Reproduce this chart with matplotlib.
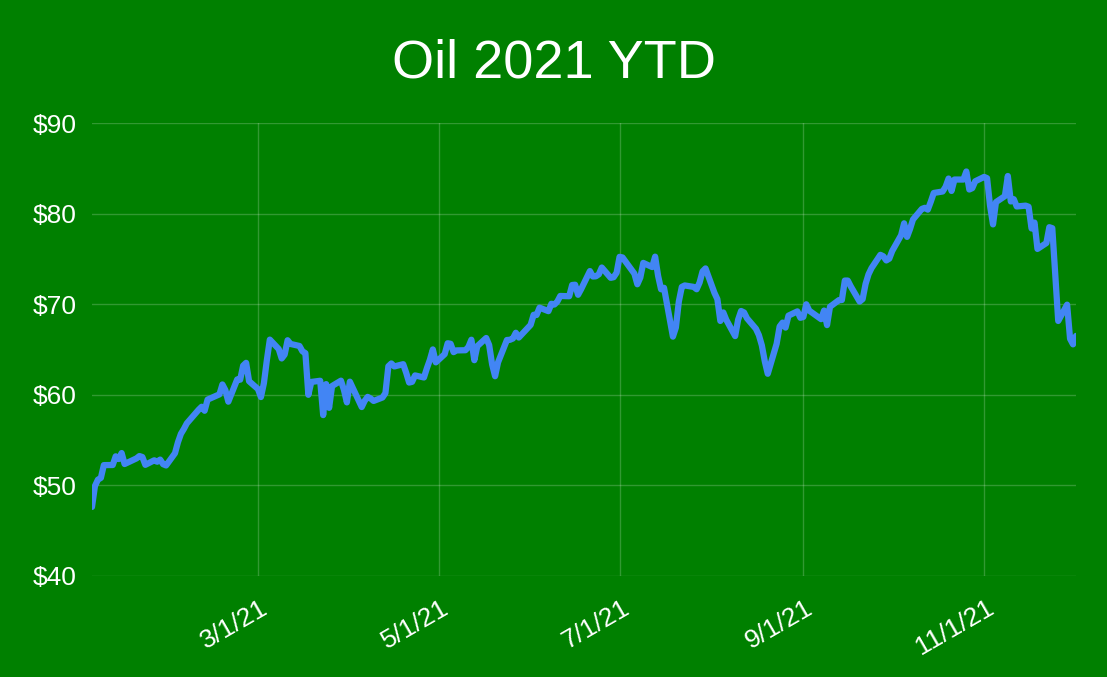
import pandas as pd
import matplotlib
matplotlib.use('Agg')
import matplotlib.pyplot as plt
import matplotlib.transforms as mtrans

# daily closing prices, one list per month
close_jan = [47.62, 49.93, 50.63, 50.83, 52.24, 52.25, 53.21, 52.91, 53.57, 52.36,
             52.98, 53.24, 53.13, 52.27, 52.77, 52.61, 52.85, 52.34, 52.20]
close_feb = [53.55, 54.76, 55.69, 56.23, 56.85, 57.97, 58.36, 58.68, 58.24, 59.47,
             60.05, 61.14, 60.52, 59.24, 61.70, 61.67, 63.22, 63.53, 61.50]
close_mar = [60.64, 59.75, 61.28, 63.83, 66.09, 65.05, 64.01, 64.44, 66.02, 65.61,
             65.39, 64.80, 64.60, 60.00, 61.42, 61.55, 57.76, 61.18, 58.56, 60.97,
             61.56, 60.55, 59.16]
close_apr = [61.45, 58.65, 59.33, 59.77, 59.60, 59.32, 59.70, 60.18, 63.15, 63.46,
             63.13, 63.38, 62.44, 61.35, 61.43, 62.14, 61.91, 62.94, 63.86, 65.01,
             63.58]
close_may = [64.49, 65.69, 65.63, 64.71, 64.90, 64.92, 65.28, 66.08, 63.82, 65.37,
             66.27, 65.49, 63.36, 62.05, 63.58, 66.05, 66.07, 66.21, 66.85, 66.32]
close_jun = [67.72, 68.83, 68.81, 69.62, 69.23, 70.05, 69.96, 70.29, 70.91, 70.88,
             72.12, 72.15, 71.04, 71.64, 73.66, 73.06, 73.08, 73.30, 74.05, 72.91,
             72.98, 73.47]
close_jul = [75.23, 75.16, 73.37, 72.20, 72.94, 74.56, 74.10, 75.25, 73.13, 71.65,
             71.81, 66.42, 67.42, 70.30, 71.91, 72.07, 71.91, 71.65, 72.39, 73.62,
             73.95]
close_aug = [71.26, 70.56, 68.15, 69.09, 68.28, 66.48, 68.29, 69.25, 69.09, 68.44,
             67.29, 66.59, 65.46, 63.69, 62.32, 65.64, 67.54, 67.97, 67.42, 68.74,
             69.21, 68.50]
close_sep = [68.59, 69.99, 69.29, 68.35, 69.30, 67.69, 69.72, 70.45, 70.46, 72.61,
             72.61, 71.97, 70.29, 70.56, 72.23, 73.30, 73.98, 75.45, 75.29, 74.83,
             75.03]
close_oct = [75.88, 77.62, 78.93, 77.43, 78.30, 79.35, 80.52, 80.64, 80.44, 81.31,
             82.28, 82.44, 82.96, 83.87, 82.50, 83.76, 83.76, 84.65, 82.66, 82.81,
             83.57]
close_nov = [84.05, 83.91, 80.86, 78.81, 81.27, 81.93, 84.15, 81.34, 81.59, 80.79,
             80.88, 80.76, 78.36, 79.01, 76.10, 76.75, 78.50, 78.39, 68.15, 69.95,
             66.18]
close_dec = [65.57, 66.50]

market_holidays = ['2021-01-18', '2021-02-15', '2021-04-02', '2021-05-31',
                   '2021-07-05', '2021-09-06', '2021-11-25']
tick_dates = ['2021-03-01', '2021-05-01', '2021-07-01', '2021-09-01', '2021-11-01']
tick_labels = ['3/1/21', '5/1/21', '7/1/21', '9/1/21', '11/1/21']
y_ticks = [40, 50, 60, 70, 80, 90]

close = (close_jan + close_feb + close_mar + close_apr + close_may + close_jun +
         close_jul + close_aug + close_sep + close_oct + close_nov + close_dec)
days = pd.bdate_range('2021-01-04', '2021-12-02', freq='C', holidays=market_holidays)

bg = '#008000'
plt.rcParams['font.family'] = ['Liberation Sans', 'DejaVu Sans']

fig = plt.figure(figsize=(11.07, 6.77), dpi=100, facecolor=bg)
ax = fig.add_axes([0.0831, 0.1492, 0.8889, 0.6691], facecolor=bg)

ax.plot(days, close, color='#4285F4', lw=4.5, solid_joinstyle='round',
        solid_capstyle='round', zorder=3)

ax.set_xlim(days[0], days[-1])
ax.set_ylim(40, 90)
ax.set_yticks(y_ticks)
ax.set_yticklabels(['${}'.format(v) for v in y_ticks])
ax.set_xticks(pd.to_datetime(tick_dates))
ax.set_xticklabels(tick_labels)

for s in ax.spines.values():
    s.set_visible(False)
ax.grid(True, color='white', alpha=0.2, lw=1)
ax.tick_params(length=0, colors='white', labelsize=19)
ax.tick_params(axis='y', pad=11)
ax.tick_params(axis='x', pad=14)

offset = mtrans.ScaledTranslation(2 / 100, 0, fig.dpi_scale_trans)
for lbl in ax.get_xticklabels():
    lbl.set_rotation(30)
    lbl.set_ha('right')
    lbl.set_rotation_mode('anchor')
    lbl.set_transform(lbl.get_transform() + offset)

fig.text(0.5, 0.886, 'Oil 2021 YTD', color='white', fontsize=39,
         ha='center', va='baseline')

fig.savefig('out.png', dpi=100, facecolor=bg)
